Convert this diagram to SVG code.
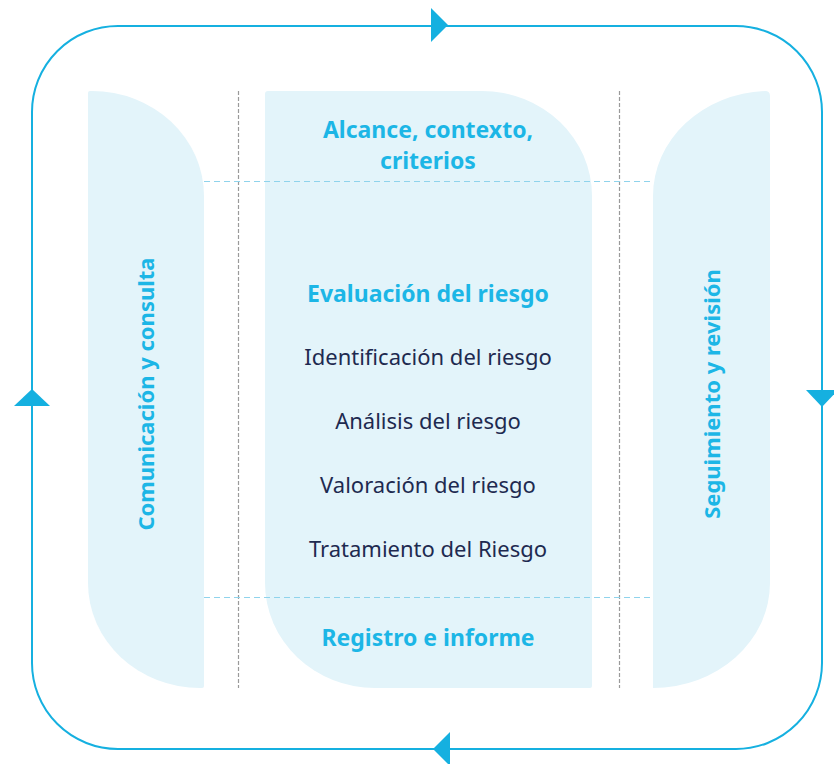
<svg xmlns="http://www.w3.org/2000/svg" width="834" height="764" viewBox="0 0 834 764">
<style>
.col{fill:#e3f4fa}
.vd{stroke:#9a9a9a;stroke-width:1.2;stroke-dasharray:4 2;fill:none}
.hd{stroke:#8fd3ec;stroke-width:1.2;stroke-dasharray:6 4;fill:none}
.loop{stroke:#15b0e0;stroke-width:2;fill:none}
.ah{fill:#15b0e0}
.h{font-family:"Noto Sans","Liberation Sans",sans-serif;font-weight:bold;font-size:23px;fill:#1cb6e6;text-anchor:middle}
.r{font-size:22px}
.t{font-family:"Noto Sans","Liberation Sans",sans-serif;font-size:22px;fill:#1e2a50;text-anchor:middle}
</style>
<rect width="834" height="764" fill="#ffffff"/>
<g id="left-column">
<path class="col" d="M90,91 H92 A112,105 0 0 1 204,196 V686 Q204,688 202,688 H200 A112,105 0 0 1 88,583 V93 Q88,91 90,91 Z"/>
<text class="h r" transform="translate(154,394) rotate(-90)">Comunicación y consulta</text>
</g>
<g id="center-column">
<path class="col" d="M268,91 H482 A110,105 0 0 1 592,196 V686 Q592,688 590,688 H375 A110,105 0 0 1 265,583 V94 Q265,91 268,91 Z"/>
<text class="h" x="428" y="138">Alcance, contexto,</text>
<text class="h" x="428" y="169">criterios</text>
<text class="h" x="428" y="302" font-size="22.6">Evaluación del riesgo</text>
<text class="t" x="428" y="365">Identificación del riesgo</text>
<text class="t" x="428" y="429">Análisis del riesgo</text>
<text class="t" x="428" y="493">Valoración del riesgo</text>
<text class="t" x="428" y="557">Tratamiento del Riesgo</text>
<text class="h" x="428" y="646">Registro e informe</text>
</g>
<g id="right-column">
<path class="col" d="M765,91 Q770,91 770,96 V583 A117,105 0 0 1 653,688 V196 A117,105 0 0 1 765,91 Z"/>
<text class="h r" transform="translate(720,394) rotate(-90)">Seguimiento y revisión</text>
</g>
<g id="connectors">
<line class="vd" x1="238.5" y1="91" x2="238.5" y2="688"/>
<line class="vd" x1="619.5" y1="91" x2="619.5" y2="688"/>
<line class="hd" x1="204" y1="181.5" x2="653" y2="181.5"/>
<line class="hd" x1="204" y1="597.5" x2="653" y2="597.5"/>
<rect class="loop" x="32" y="26" width="790" height="723" rx="86" ry="86"/>
<polygon class="ah" points="431,8 431,42 448,25"/>
<polygon class="ah" points="14,406 50,406 32,389"/>
<polygon class="ah" points="806,390 838,390 822,407"/>
<polygon class="ah" points="450,732 450,766 433,749"/>
</g>
</svg>
